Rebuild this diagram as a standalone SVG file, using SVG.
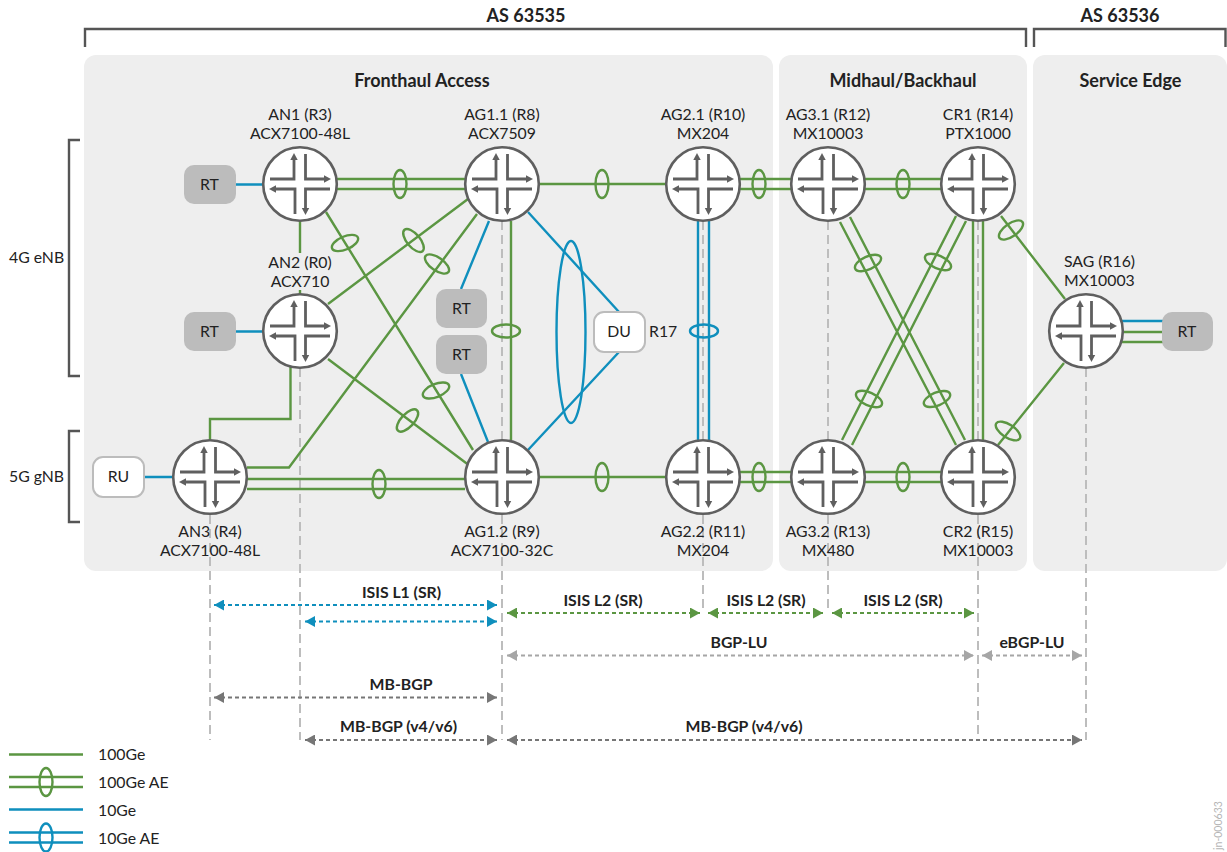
<svg xmlns="http://www.w3.org/2000/svg" width="1227" height="852" viewBox="0 0 1227 852">
<style>
text{font-family:Lato,"Open Sans","Liberation Sans",sans-serif;fill:#222;font-size:15.8px}
.m{text-anchor:middle}
.h{font-weight:700;font-size:18px;text-anchor:middle}
.p{font-weight:700;font-size:15.8px;text-anchor:middle}
.panel{fill:#eee}
.g{fill:none;stroke:#5b9642;stroke-width:2.4}
.b{fill:none;stroke:#0f8fbd;stroke-width:2.4}
.d{fill:none;stroke:#bdbdbd;stroke-width:2;stroke-dasharray:9 5}
.br{fill:none;stroke:#555;stroke-width:2.400}
.rt{fill:#bcbcbc}
.wh{fill:#fff;stroke:#bcbcbc;stroke-width:2}
.a{fill:none;stroke-width:2;stroke-dasharray:4 3}
.ab{stroke:#0f8fbd;marker-start:url(#mb);marker-end:url(#mb)}
.ag{stroke:#5b9642;marker-start:url(#mg);marker-end:url(#mg)}
.al{stroke:#a6a6a6;marker-start:url(#ml);marker-end:url(#ml)}
.ad{stroke:#767676;marker-start:url(#md);marker-end:url(#md)}
</style>
<defs>
<marker id="mb" markerUnits="userSpaceOnUse" markerWidth="11" markerHeight="11" refX="10" refY="5.5" orient="auto-start-reverse"><path d="M0 0L10 5.500L0 11Z" fill="#0f8fbd"/></marker>
<marker id="mg" markerUnits="userSpaceOnUse" markerWidth="11" markerHeight="11" refX="10" refY="5.5" orient="auto-start-reverse"><path d="M0 0L10 5.500L0 11Z" fill="#5b9642"/></marker>
<marker id="ml" markerUnits="userSpaceOnUse" markerWidth="11" markerHeight="11" refX="10" refY="5.5" orient="auto-start-reverse"><path d="M0 0L10 5.500L0 11Z" fill="#a6a6a6"/></marker>
<marker id="md" markerUnits="userSpaceOnUse" markerWidth="11" markerHeight="11" refX="10" refY="5.5" orient="auto-start-reverse"><path d="M0 0L10 5.500L0 11Z" fill="#767676"/></marker>
<g id="router">
<circle r="36.8" fill="#fff" stroke="#5f5f5f" stroke-width="2.6"/>
<g fill="none" stroke="#5f5f5f" stroke-width="2.800">
<path d="M-30 -5H-6V-25"/><path d="M5.500 -30V-5H25"/><path d="M-25 5H-5V30"/><path d="M30 5H5.500V25"/>
</g>
<g fill="#5f5f5f"><path d="M-6 -31L-2.300 -24H-9.700Z"/><path d="M31 -5L24 -8.700V-1.300Z"/><path d="M-31 5L-24 1.300V8.700Z"/><path d="M5.500 31L1.800 24H9.200Z"/></g>
</g>
</defs>
<rect width="1227" height="852" fill="#fff"/>
<g id="panels">
<rect class="panel" x="84" y="55" width="689" height="516" rx="12"/>
<rect class="panel" x="779" y="55" width="248" height="516" rx="12"/>
<rect class="panel" x="1033" y="55" width="194" height="516" rx="12"/>
<text class="h" x="422" y="87">Fronthaul Access</text>
<text class="h" x="903" y="87">Midhaul/Backhaul</text>
<text class="h" x="1130.500" y="87">Service Edge</text>
</g>
<g id="brackets">
<path class="br" d="M85 47V29H1026V47"/>
<path class="br" d="M1034 47V29H1225.500V47"/>
<path class="br" d="M80 140H69V376H80"/>
<path class="br" d="M80 431H69V522H80"/>
<text class="h" x="526" y="22">AS 63535</text>
<text class="h" x="1120" y="22">AS 63536</text>
<text x="9" y="262.500">4G eNB</text>
<text x="9" y="482">5G gNB</text>
</g>
<g id="connectors">
<path class="d" d="M210 515V740M300 368V740M502 221V740M703 221V613M828 221V610M978 221V740M1086 368V740"/>
<path class="g" d="M337 179H465M337 189H465M300 221V253M300 290V294M326 212L473 450M328 304L468 199M477 214L289 467.500H247M328 359L470 466M290.500 365V419H210V441M247 479H465M247 489H465M511 221V440M539 184H666M539 477H666M740 179H791M740 189H791M740 472H791M740 482H791M865 179H941M865 189H941M865 472H941M865 482H941M840 222L956 445M850 217L965 440M842 440L956 216M852 445L966 221M973 221V440M983 221V440M1001 216L1065 299M998 445L1064 363M1122 332H1163M1122 342H1163"/>
<path class="b" d="M235 184.500H263M235 331.500H263M145 477H173M489 221L461 289M461 374L488 442M528 212L619 312M528 450L619 352M698 221V440M709 221V440M1122 321H1163"/>
<g class="g">
<ellipse cx="400" cy="184" rx="6.500" ry="14"/><ellipse cx="602" cy="184" rx="6.500" ry="14"/><ellipse cx="759" cy="184" rx="6.500" ry="14"/><ellipse cx="903" cy="184" rx="6.500" ry="14"/>
<ellipse cx="379" cy="484" rx="6.500" ry="14"/><ellipse cx="602" cy="477" rx="6.500" ry="14"/><ellipse cx="759" cy="477" rx="6.500" ry="14"/><ellipse cx="903" cy="477" rx="6.500" ry="14"/>
<ellipse cx="506" cy="331" rx="14" ry="6.500"/>
<ellipse transform="translate(345 243) rotate(-23)" rx="14" ry="6.500"/>
<ellipse transform="translate(413.500 240.500) rotate(50)" rx="14" ry="6.500"/>
<ellipse transform="translate(437 264) rotate(35)" rx="14" ry="6.500"/>
<ellipse transform="translate(436 390.500) rotate(-22)" rx="14" ry="6.500"/>
<ellipse transform="translate(407.500 420.500) rotate(-47)" rx="14" ry="6.500"/>
<ellipse transform="translate(868 263) rotate(-24)" rx="14" ry="6.500"/>
<ellipse transform="translate(938 262) rotate(24)" rx="14" ry="6.500"/>
<ellipse transform="translate(869 399) rotate(24)" rx="14" ry="6.500"/>
<ellipse transform="translate(937 399) rotate(-22)" rx="14" ry="6.500"/>
<ellipse transform="translate(1011 230) rotate(-35)" rx="14" ry="6.500"/>
<ellipse transform="translate(1008 431) rotate(33)" rx="14" ry="6.500"/>
</g>
<g class="b"><ellipse cx="571" cy="332" rx="14.500" ry="91"/><ellipse cx="704" cy="331" rx="14" ry="6.500"/></g>
</g>
<g id="AN1"><use href="#router" x="300" y="184"/><text class="m" x="300" y="120">AN1 (R3)</text><text class="m" x="300" y="139">ACX7100-48L</text></g>
<g id="AN2"><use href="#router" x="300" y="331"/><text class="m" x="300" y="268">AN2 (R0)</text><text class="m" x="300" y="287">ACX710</text></g>
<g id="AN3"><use href="#router" x="210" y="477"/><text class="m" x="210" y="537">AN3 (R4)</text><text class="m" x="210" y="556">ACX7100-48L</text></g>
<g id="AG1.1"><use href="#router" x="502" y="184"/><text class="m" x="502" y="120">AG1.1 (R8)</text><text class="m" x="502" y="139">ACX7509</text></g>
<g id="AG1.2"><use href="#router" x="502" y="477"/><text class="m" x="502" y="537">AG1.2 (R9)</text><text class="m" x="502" y="556">ACX7100-32C</text></g>
<g id="AG2.1"><use href="#router" x="703" y="184"/><text class="m" x="703" y="120">AG2.1 (R10)</text><text class="m" x="703" y="139">MX204</text></g>
<g id="AG2.2"><use href="#router" x="703" y="477"/><text class="m" x="703" y="537">AG2.2 (R11)</text><text class="m" x="703" y="556">MX204</text></g>
<g id="AG3.1"><use href="#router" x="828" y="184"/><text class="m" x="828" y="120">AG3.1 (R12)</text><text class="m" x="828" y="139">MX10003</text></g>
<g id="AG3.2"><use href="#router" x="828" y="477"/><text class="m" x="828" y="537">AG3.2 (R13)</text><text class="m" x="828" y="556">MX480</text></g>
<g id="CR1"><use href="#router" x="978" y="184"/><text class="m" x="978" y="120">CR1 (R14)</text><text class="m" x="978" y="139">PTX1000</text></g>
<g id="CR2"><use href="#router" x="978" y="477"/><text class="m" x="978" y="537">CR2 (R15)</text><text class="m" x="978" y="556">MX10003</text></g>
<g id="SAG"><use href="#router" x="1086" y="331"/><text x="1064" y="267">SAG (R16)</text><text x="1064" y="286">MX10003</text></g>
<g id="RT1"><rect class="rt" x="184" y="165" width="52" height="39" rx="10"/><text class="m" x="209.500" y="190">RT</text></g>
<g id="RT2"><rect class="rt" x="184" y="312" width="52" height="39" rx="10"/><text class="m" x="209.500" y="337">RT</text></g>
<g id="RT3"><rect class="rt" x="436" y="289" width="51" height="39" rx="10"/><text class="m" x="461.500" y="314">RT</text></g>
<g id="RT4"><rect class="rt" x="436" y="335" width="51" height="39" rx="10"/><text class="m" x="461.500" y="360">RT</text></g>
<g id="RT5"><rect class="rt" x="1162" y="312" width="51" height="39" rx="10"/><text class="m" x="1187" y="337">RT</text></g>
<g id="RU"><rect class="wh" x="93" y="457" width="51" height="40" rx="10"/><text class="m" x="118.500" y="482">RU</text></g>
<g id="DU"><rect class="wh" x="594" y="312" width="51" height="40" rx="10"/><text class="m" x="619" y="337">DU</text><text x="649" y="337">R17</text></g>
<g id="protocols">
<path class="a ab" d="M214 605H497"/><path class="a ab" d="M305 621.500H497"/>
<path class="a ag" d="M507 613H700"/><path class="a ag" d="M708 613H823"/><path class="a ag" d="M832 613H974"/>
<path class="a al" d="M507 655.500H974"/><path class="a al" d="M982 655.500H1082"/>
<path class="a ad" d="M214 697.500H497"/><path class="a ad" d="M305 740H497"/><path class="a ad" d="M507 740H1082"/>
<text class="p" x="401.500" y="598">ISIS L1 (SR)</text>
<text class="p" x="603" y="606">ISIS L2 (SR)</text>
<text class="p" x="766" y="606">ISIS L2 (SR)</text>
<text class="p" x="903" y="606">ISIS L2 (SR)</text>
<text class="p" x="739" y="648">BGP-LU</text>
<text class="p" x="1032" y="648">eBGP-LU</text>
<text class="p" x="401" y="690">MB-BGP</text>
<text class="p" x="398.500" y="732">MB-BGP (v4/v6)</text>
<text class="p" x="744" y="732">MB-BGP (v4/v6)</text>
</g>
<g id="legend">
<path class="g" d="M9 754.500H83M9 777H83M9 787H83"/>
<ellipse class="g" cx="46" cy="782" rx="6.500" ry="14"/>
<path class="b" d="M9 809.500H83M9 832.500H83M9 842.500H83"/>
<ellipse class="b" cx="46" cy="837.500" rx="6.500" ry="14"/>
<text x="98" y="759.500">100Ge</text><text x="98" y="787.500">100Ge AE</text><text x="98" y="815.500">10Ge</text><text x="98" y="843.500">10Ge AE</text>
</g>
<text transform="translate(1222 850) rotate(-90)" style="font-size:10.5px;fill:#b5b5b5">jn-000633</text>
</svg>
